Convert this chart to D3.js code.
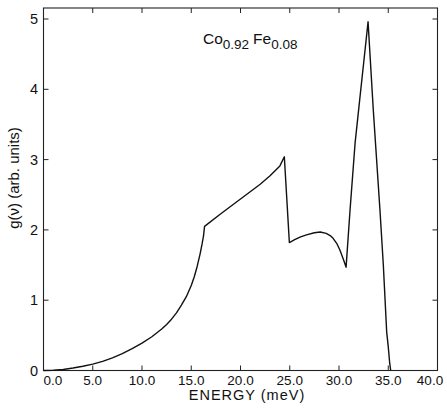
<!DOCTYPE html>
<html><head><meta charset="utf-8">
<script src="https://cdn.jsdelivr.net/npm/d3@7"></script>
<style>body{margin:0;background:#fff}svg{display:block}text{font-family:"Liberation Sans",Arial,sans-serif;fill:#111}</style>
</head><body>
<svg id="c" width="447" height="410"></svg>
<script>
const energy = [0,1,2,3,4,5,6,7,8,9,10,11,12,12.5,13,13.5,14,14.5,15,15.3,15.6,15.9,16.1,16.25,16.35,
  18,20,22,23,24,24.45,24.96,25.5,26.1,26.7,27.5,28.1,28.7,29.1,29.4,29.8,30.1,30.45,30.72,
  31.12,31.63,32.1,32.5,32.95,33.48,34.16,34.5,34.84,35.0,35.15,35.25];
const gnu = [0,0.004,0.015,0.035,0.06,0.09,0.13,0.18,0.24,0.31,0.39,0.48,0.59,0.655,0.73,0.82,0.93,1.05,1.21,1.33,1.48,1.66,1.8,1.92,2.05,
  2.23,2.44,2.65,2.77,2.91,3.04,1.82,1.86,1.9,1.93,1.96,1.97,1.95,1.92,1.88,1.8,1.71,1.58,1.47,
  2.28,3.23,3.85,4.37,4.96,3.71,2.28,1.5,0.55,0.34,0.1,0];
const xTicks = [0,5,10,15,20,25,30,35,40];
const xTickLabels = ["0.0","5.0","10.0","15.0","20.0","25.0","30.0","35.0","40.0"];
const yTicks = [0,1,2,3,4,5];
const yTickLabels = ["0","1","2","3","4","5"];

const svg = d3.select("#c");
const L=43.5, R=437.5, T=8, B=370.5;
const x = d3.scaleLinear().domain([0,40]).range([L,R]);
const y = d3.scaleLinear().domain([0,5]).range([B,B-5*70.3]);
const tl=5;
const g = svg.append("g");
g.append("rect").attr("x",L).attr("y",T).attr("width",R-L).attr("height",B-T)
 .attr("fill","none").attr("stroke","#222").attr("stroke-width",1.1);
xTicks.forEach((t,i)=>{
  g.append("line").attr("x1",x(t)).attr("x2",x(t)).attr("y1",B).attr("y2",B-tl).attr("stroke","#222");
  g.append("line").attr("x1",x(t)).attr("x2",x(t)).attr("y1",T).attr("y2",T+tl).attr("stroke","#222");
  let lx = x(t);
  if (i===0) lx = Math.max(lx, 53);
  if (i===xTicks.length-1) lx = Math.min(lx, 430);
  g.append("text").attr("x",lx).attr("y",385).attr("text-anchor","middle").attr("font-size",13.5).text(xTickLabels[i]);
});
yTicks.forEach((t,i)=>{
  g.append("line").attr("x1",L).attr("x2",L+tl).attr("y1",y(t)).attr("y2",y(t)).attr("stroke","#222");
  g.append("line").attr("x1",R).attr("x2",R-tl).attr("y1",y(t)).attr("y2",y(t)).attr("stroke","#222");
  g.append("text").attr("x",38).attr("y",y(t)+5).attr("text-anchor","end").attr("font-size",14.5).text(yTickLabels[i]);
});
g.append("text").attr("x",247).attr("y",400).attr("text-anchor","middle").attr("font-size",14.5)
 .attr("letter-spacing","1").text("ENERGY  (meV)");
g.append("text").attr("transform","translate(19,178) rotate(-90)").attr("text-anchor","middle")
 .attr("font-size",15).text("g(ν)  (arb. units)");
const title = g.append("text").attr("x",203).attr("y",44).attr("font-size",15.5);
title.append("tspan").text("Co");
title.append("tspan").attr("dy",5).attr("font-size",13.5).text("0.92");
title.append("tspan").attr("dy",-5).attr("dx",4).text("Fe");
title.append("tspan").attr("dy",5).attr("font-size",13.5).text("0.08");

const pts = energy.map((e,i)=>[e,gnu[i]]);
g.append("path").datum(pts)
 .attr("d",d3.line().x(d=>x(d[0])).y(d=>y(d[1])))
 .attr("fill","none").attr("stroke","#111").attr("stroke-width",1.4).attr("stroke-linejoin","round");
</script>
</body></html>
